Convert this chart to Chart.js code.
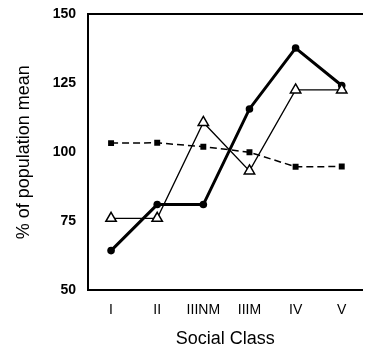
<!DOCTYPE html>
<html><head><meta charset="utf-8">
<script src="https://cdn.jsdelivr.net/npm/chart.js@4/dist/chart.umd.min.js"></script>
<style>html,body{margin:0;padding:0;background:#fff;overflow:hidden}#wrap{width:370px;height:348px}</style>
</head><body><div id="wrap"><canvas id="c" width="370" height="348"></canvas></div>
<script>
const categories = ["I", "II", "IIINM", "IIIM", "IV", "V"];
const seriesCircles = [64.3, 81, 81, 115.7, 137.8, 124.2];
const seriesTriangles = [76, 76, 110.8, 93.2, 122.6, 122.6];
const seriesSquares = [103.3, 103.4, 102, 100, 94.7, 94.8];
const yTickLabels = [50, 75, 100, 125, 150];

const pts = arr => arr.map((v, i) => ({x: i, y: v}));

new Chart(document.getElementById('c'), {
  type: 'line',
  data: {
    datasets: [
      {data: pts(seriesSquares), borderColor: '#000', borderWidth: 1.5, borderDash: [7, 4],
       pointStyle: 'rect', pointRadius: 4.2, backgroundColor: '#000', pointBackgroundColor: '#000', pointBorderWidth: 0},
      {data: pts(seriesTriangles), borderColor: '#000', borderWidth: 1.3,
       pointStyle: 'triangle', pointRadius: 6, pointBackgroundColor: '#fff', pointBorderColor: '#000', pointBorderWidth: 1.5},
      {data: pts(seriesCircles), borderColor: '#000', borderWidth: 3,
       pointStyle: 'circle', pointRadius: 3.8, pointBackgroundColor: '#000', pointBorderColor: '#000', pointBorderWidth: 0}
    ]
  },
  options: {
    responsive: false, animation: false, devicePixelRatio: 1,
    layout: {padding: {top: 13, right: 0, left: 0, bottom: 0}},
    plugins: {legend: {display: false}, tooltip: {enabled: false}},
    scales: {
      x: {
        type: 'linear', min: -0.5, max: 5.45,
        afterBuildTicks: s => { s.ticks = categories.map((c, i) => ({value: i})); },
        afterFit: s => { s.height = 58; },
        grid: {display: false, drawOnChartArea: false, drawTicks: true, tickLength: 5, tickColor: '#000', tickWidth: 1.5},
        border: {display: true, color: '#000', width: 2},
        ticks: {color: '#000', padding: 7, font: {family: 'Liberation Sans', size: 14}, maxRotation: 0,
                callback: v => categories[v] ?? ''},
        title: {display: true, text: 'Social Class', color: '#000', padding: {top: 0, bottom: 0},
                font: {family: 'Liberation Sans', size: 18, lineHeight: 1}}
      },
      xTop: {
        type: 'linear', position: 'top', min: -0.5, max: 5.45,
        afterFit: s => { s.height = 0; },
        grid: {display: false, drawTicks: false},
        border: {display: true, color: '#000', width: 2},
        ticks: {display: false}
      },
      y: {
        type: 'linear', min: 50, max: 150,
        afterBuildTicks: s => { const t = []; for (let v = 50; v <= 150; v += 12.5) t.push({value: v}); s.ticks = t; },
        afterFit: s => { s.width = 88; },
        grid: {display: false, drawOnChartArea: false, drawTicks: true, tickLength: 6, tickColor: '#000', tickWidth: 1.5},
        border: {display: true, color: '#000', width: 2},
        ticks: {color: '#000', padding: 6, font: {family: 'Liberation Sans', size: 14, weight: 'bold'},
                callback: v => yTickLabels.includes(v) ? String(v) : ''},
        title: {display: true, text: '% of population mean', color: '#000', padding: {top: 13, bottom: 0},
                font: {family: 'Liberation Sans', size: 18, lineHeight: 1.2}}
      }
    }
  }
});
</script>
</body></html>
